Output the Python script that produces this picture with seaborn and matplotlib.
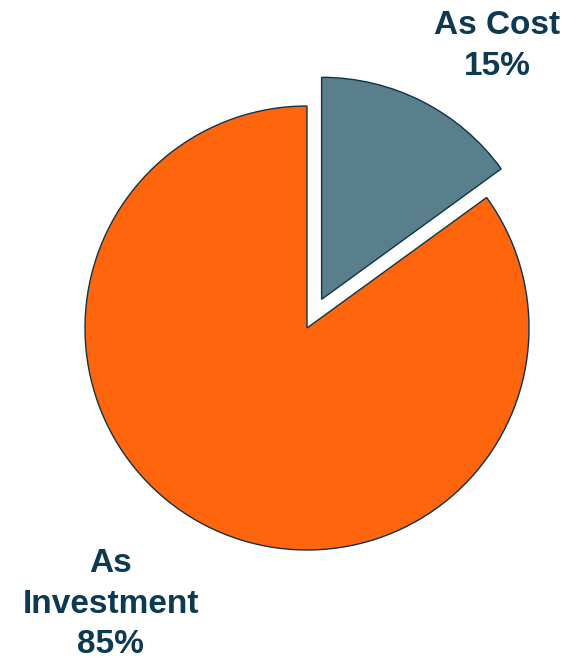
import matplotlib
matplotlib.use("Agg")
import matplotlib.pyplot as plt
import seaborn as sns

# data
categories = ["As Cost", "As Investment"]
shares = [15, 85]
pct_labels = ["15%", "85%"]
slice_colors = ["#5A7F8C", "#FF650D"]

sns.set_style("white")
plt.rcParams['font.family'] = ['Liberation Sans', 'DejaVu Sans']

fig = plt.figure(figsize=(5.65, 6.6), dpi=100)
ax = fig.add_axes([0, 0, 1, 1])

ax.pie(shares, colors=slice_colors, startangle=90, counterclock=False,
       explode=[0.145, 0], radius=1,
       wedgeprops=dict(edgecolor="#0D3349", linewidth=1.0), frame=True)
# 1 unit = 222 px, pie centre at (307, 328) px from top-left
ax.set_xlim(-307 / 222, (565 - 307) / 222)
ax.set_ylim(-(660 - 328) / 222, 328 / 222)
ax.set_aspect('equal')
ax.axis('off')

txt_color = "#0D3A52"
ax.text(0.856, 1.27, "As Cost\n" + pct_labels[0], ha='center', va='center',
        fontsize=24, fontweight='bold', color=txt_color, linespacing=1.4)
ax.text(-0.885, -1.245, "As\nInvestment\n" + pct_labels[1], ha='center', va='center',
        fontsize=24, fontweight='bold', color=txt_color, linespacing=1.4)

fig.savefig("out.png", dpi=100)
